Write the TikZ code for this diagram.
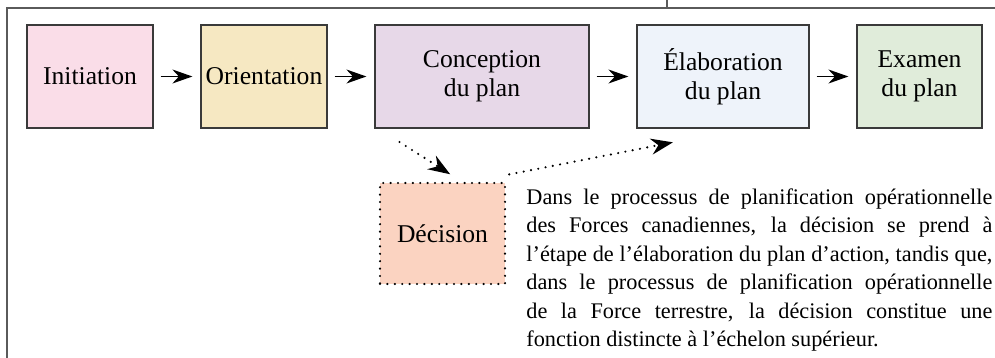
\documentclass[tikz,border=0pt]{standalone}
\usepackage{fontspec}
\setmainfont{Liberation Serif}
\usetikzlibrary{arrows.meta, positioning}
\definecolor{framegray}{HTML}{5A5A5A}
\definecolor{boxgray}{HTML}{3A3A3A}
\definecolor{initpink}{HTML}{FADDE8}
\definecolor{orientsand}{HTML}{F6E8C2}
\definecolor{conceptmauve}{HTML}{E7D8E8}
\definecolor{elabblue}{HTML}{EEF3FA}
\definecolor{examgreen}{HTML}{E0ECDA}
\definecolor{decisionpeach}{HTML}{FBD3C1}

\begin{document}
\begin{tikzpicture}[x=0.5pt, y=-0.5pt,
    stagebox/.style={draw=boxgray, line width=0.6pt, minimum height=51.5pt,
        align=center, inner sep=2pt, font=\fontsize{12.8}{14.3}\selectfont},
    flow/.style={-{Stealth[length=10pt, width=7pt]}, line width=0.7pt,
        shorten <=3.5pt, shorten >=4pt},
    dots/.style={line width=1.2pt, line cap=round, dash pattern=on 0pt off 3.7pt},
    dotflow/.style={dots, -{Stealth[length=11pt, width=8pt]}}]
\useasboundingbox (0,0) rectangle (995,358);
\draw[framegray, line width=0.8pt] (7,358) -- (7,8) -- (995,8);
\draw[framegray, line width=0.8pt] (667,0) -- (667,8);

\node[stagebox, fill=initpink, minimum width=63pt] (initiation) at (90,76.5) {Initiation};
\node[stagebox, fill=orientsand, minimum width=63pt] (orientation) at (264,76.5) {Orientation};
\node[stagebox, fill=conceptmauve, minimum width=107pt] (conception) at (482,76.5) {Conception\\du plan};
\node[stagebox, fill=elabblue, minimum width=86pt] (elaboration) at (723,76.5) {Élaboration\\du plan};
\node[stagebox, fill=examgreen, minimum width=62.5pt] (examen) at (919.5,76.5) {Examen\\du plan};
\node[stagebox, dots, draw=black, fill=decisionpeach, minimum width=62.5pt,
    minimum height=50.5pt] (decision) at (442.5,233.5) {Décision};

\draw[flow] (initiation) -- (orientation);
\draw[flow] (orientation) -- (conception);
\draw[flow] (conception) -- (elaboration);
\draw[flow] (elaboration) -- (examen);

\draw[dotflow, shorten <=12.5pt, shorten >=7pt]
    ([xshift=2pt]conception.south west) -- ([xshift=9.75pt]decision.north);
\draw[dotflow, shorten >=35.7pt]
    ([xshift=1.5pt, yshift=3.7pt]decision.north east) -- ([xshift=10pt]elaboration.south);

\node[anchor=north west, inner sep=0pt, text width=233pt, align=justify,
    font=\fontsize{11.15}{14.25}\selectfont] (remarque) at (526,188)
    {Dans le processus de planification opérationnelle\linebreak
    des Forces canadiennes, la décision se prend à\linebreak
    l’étape de l’élaboration du plan d’action, tandis que,\linebreak
    dans le processus de planification opérationnelle\linebreak
    de la Force terrestre, la décision constitue une\linebreak
    fonction distincte à l’échelon supérieur.};
\end{tikzpicture}
\end{document}
